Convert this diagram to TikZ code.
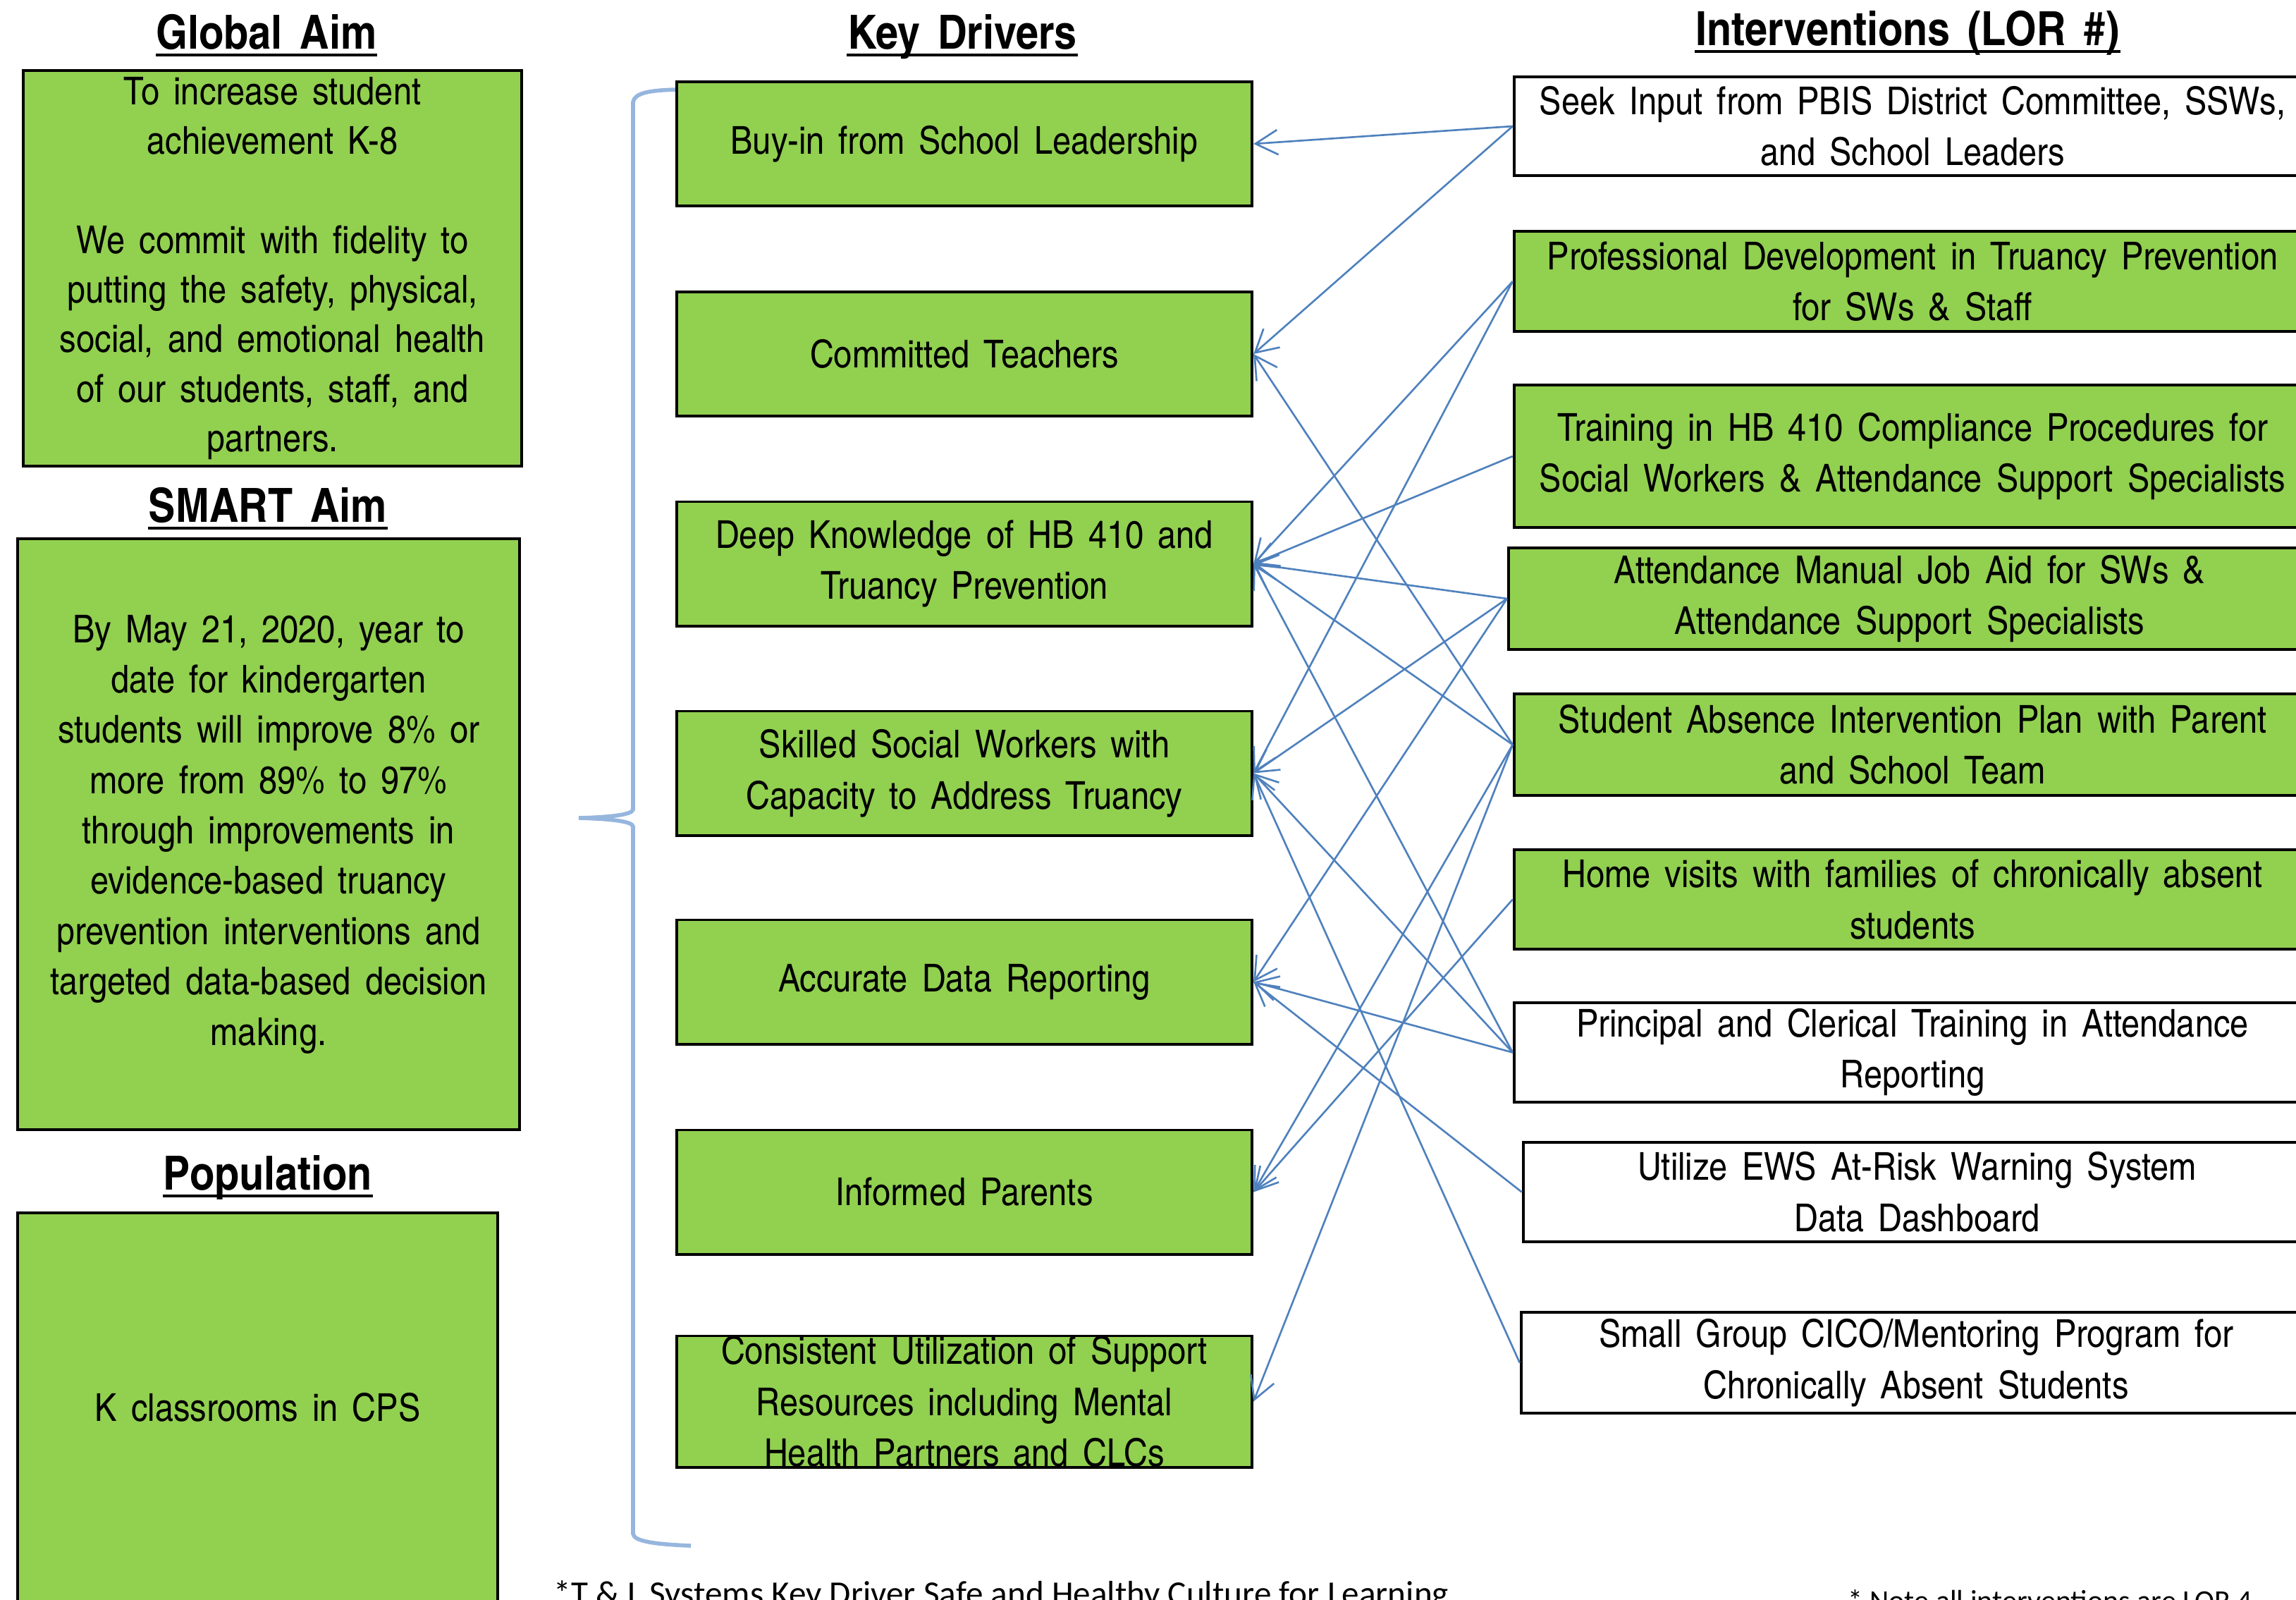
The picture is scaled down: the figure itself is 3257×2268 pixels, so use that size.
\documentclass[tikz,border=0pt]{standalone}
\usepackage{fontspec}
\setmainfont{texgyreheroscn}[Extension=.otf, UprightFont=*-regular, BoldFont=*-bold, ItalicFont=*-italic, BoldItalicFont=*-bolditalic, FakeStretch=1.05, WordSpace=1.55]
\newfontfamily\notefont{Carlito}
\usetikzlibrary{arrows.meta}
\definecolor{boxgreen}{RGB}{146,208,80}
\definecolor{linkblue}{RGB}{79,129,189}
\definecolor{bracelight}{RGB}{150,182,222}
\tikzset{
  box/.style={draw=black, line width=1.1pt, rectangle, inner sep=0pt, align=center,
    font=\fontsize{15.5}{20.6}\selectfont},
  gbox/.style={box, fill=boxgreen},
  wbox/.style={box, fill=white},
  drv/.style={gbox, minimum width=8.16cm, minimum height=1.76cm},
  intv/.style={minimum width=11.30cm, minimum height=1.41cm},
  hdr/.style={anchor=base, inner sep=0pt, text depth=0pt, font=\bfseries\fontsize{19}{22}\selectfont},
  uline/.style={line width=1.3pt},
  conn/.style={draw=linkblue, line width=0.75pt, -{Straight Barb[length=9pt,width=10pt]}},
  note/.style={anchor=base west, inner sep=0pt}
}
\begin{document}
\begin{tikzpicture}[x=0.01cm,y=-0.01cm]
\useasboundingbox (0,0) rectangle (3257,2268);
\clip (0,0) rectangle (3257,2268);
\fill[white] (0,0) rectangle (3257,2268);

% headers
\node[hdr] (hglobal) at (378,69) {Global Aim};
\node[hdr] (hsmart) at (380,740) {SMART Aim};
\node[hdr] (hpop) at (380,1687) {Population};
\node[hdr] (hkey) at (1365,69) {Key Drivers};
\node[hdr] (hint) at (2706,64) {Interventions (LOR \#)};
\foreach \h in {hglobal,hsmart,hpop,hkey,hint}
  \draw[uline] ([yshift=-2.6pt]\h.base west) -- ([yshift=-2.6pt]\h.base east);

% left column
\node[gbox, minimum width=7.07cm, minimum height=5.61cm, font=\fontsize{15.5}{20}\selectfont] (global) at (386.5,380.5)
 {To increase student\\achievement K-8\\[20pt]We commit with fidelity to\\putting the safety, physical,\\social, and emotional health\\of our students, staff, and\\partners.};
\node[gbox, minimum width=7.12cm, minimum height=8.38cm, font=\fontsize{15.5}{20.3}\selectfont] (smart) at (381,1183)
 {By May 21, 2020, year to\\date for kindergarten\\students will improve 8\% or\\more from 89\% to 97\%\\through improvements in\\evidence-based truancy\\prevention interventions and\\targeted data-based decision\\making.};
\node[gbox, minimum width=6.81cm, minimum height=5.52cm] (pop) at (365.5,1996) {K classrooms in CPS};

% brace
\draw[bracelight, line width=1.6pt] (960,127) .. controls (920,128) and (900,132) .. (898,145)
  -- (898,1148) .. controls (897,1156) and (860,1159) .. (821,1160)
  .. controls (860,1161) and (897,1164) .. (898,1172)
  -- (898,2175) .. controls (899,2186) and (930,2190) .. (980,2192);

% key drivers
\node[drv] (buyin) at (1368,204) {Buy-in from School Leadership};
\node[drv] (committed) at (1368,502) {Committed Teachers};
\node[drv] (deep) at (1368,799.5) {Deep Knowledge of HB 410 and\\Truancy Prevention};
\node[drv] (skilled) at (1368,1096.5) {Skilled Social Workers with\\Capacity to Address Truancy};
\node[drv] (accurate) at (1368,1392.5) {Accurate Data Reporting};
\node[drv] (informed) at (1368,1690.5) {Informed Parents};
\node[drv] (consistent) at (1368,1987.5) {Consistent Utilization of Support\\Resources including Mental\\Health Partners and CLCs};

% interventions
\node[wbox, intv, minimum height=1.40cm] (seek) at (2713,179) {Seek Input from PBIS District Committee, SSWs,\\and School Leaders};
\node[gbox, intv, minimum height=1.42cm] (pd) at (2713,399) {Professional Development in Truancy Prevention\\for SWs \& Staff};
\node[gbox, intv, minimum height=2.02cm] (training) at (2713,647) {Training in HB 410 Compliance Procedures for\\Social Workers \& Attendance Support Specialists};
\node[gbox, intv, minimum width=11.38cm, minimum height=1.44cm] (am) at (2709,849) {Attendance Manual Job Aid for SWs \&\\Attendance Support Specialists};
\node[gbox, intv, minimum height=1.44cm] (sa) at (2713,1056) {Student Absence Intervention Plan with Parent\\and School Team};
\node[gbox, intv] (home) at (2713,1275.5) {Home visits with families of chronically absent\\students};
\node[wbox, intv] (principal) at (2713,1492.5) {Principal and Clerical Training in Attendance\\Reporting};
\node[wbox, intv, minimum width=11.17cm] (ews) at (2719.5,1690.5) {Utilize EWS At-Risk Warning System\\Data Dashboard};
\node[wbox, intv, minimum width=11.20cm, minimum height=1.43cm] (small) at (2718,1932.5) {Small Group CICO/Mentoring Program for\\Chronically Absent Students};

% connectors
\draw[conn] (seek.west) -- (buyin.east);
\draw[conn] (seek.west) -- (committed.east);
\draw[conn] (pd.west) -- (deep.east);
\draw[conn] (pd.west) -- (skilled.east);
\draw[conn] (training.west) -- (deep.east);
\draw[conn] (am.west) -- (deep.east);
\draw[conn] (am.west) -- (skilled.east);
\draw[conn] (am.west) -- (accurate.east);
\draw[conn] (sa.west) -- (committed.east);
\draw[conn] (sa.west) -- (deep.east);
\draw[conn] (sa.west) -- (informed.east);
\draw[conn] (sa.west) -- (consistent.east);
\draw[conn] (home.west) -- (informed.east);
\draw[conn] (principal.west) -- (deep.east);
\draw[conn] (principal.west) -- (skilled.east);
\draw[conn] (principal.west) -- (accurate.east);
\draw[conn] (ews.west) -- (accurate.east);
\draw[conn] (small.west) -- (skilled.east);

% notes
\node[note, font=\notefont\fontsize{14}{16}\selectfont] (note1) at (785,2276) {*T \& L Systems Key Driver Safe and Healthy Culture for Learning};
\node[note, font=\notefont\fontsize{12}{14}\selectfont] (note2) at (2621,2284) {* Note all interventions are LOR 4};
\end{tikzpicture}
\end{document}
